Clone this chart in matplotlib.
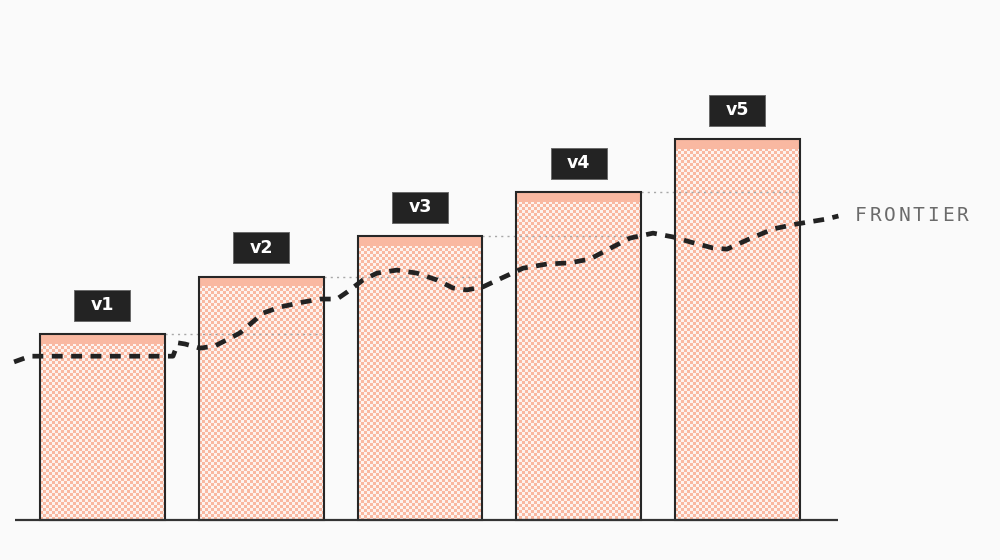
import numpy as np
import matplotlib.pyplot as plt
from matplotlib.patches import Rectangle

# releases and their scores
labels = ['v1', 'v2', 'v3', 'v4', 'v5']
scores = [48.8, 63.9, 74.5, 86.0, 100.0]

# frontier curve (x in bar-slot units, y in score units)
frontier_x = [-0.557, -0.457, 0.394, 0.444, 0.476, 0.520, 0.614, 0.709, 0.866, 1.011,
              1.118, 1.263, 1.370, 1.477, 1.540, 1.641, 1.729, 1.855, 1.981, 2.107,
              2.208, 2.296, 2.397, 2.504, 2.649, 2.800, 2.945, 3.071, 3.216, 3.323,
              3.468, 3.594, 3.701, 3.846, 3.934, 4.060, 4.224, 4.372, 4.561, 4.636]
frontier_y = [41.5, 43.0, 43.0, 43.0, 46.5, 46.2, 45.1, 45.7, 49.1, 54.3,
              55.9, 57.2, 58.0, 58.0, 59.8, 63.0, 64.8, 65.6, 64.8, 63.0,
              60.9, 60.4, 61.2, 63.3, 66.1, 67.2, 67.5, 68.5, 71.7, 74.0,
              75.3, 74.3, 73.0, 71.4, 71.1, 73.5, 76.4, 77.7, 79.0, 79.8]
frontier_label = 'FRONTIER'

bg = '#fafafa'
salmon = '#f9b8a1'
ink = '#262626'

fig = plt.figure(figsize=(10, 5.6), dpi=100, facecolor=bg)
ax = fig.add_axes([0, 0, 1, 1])
ax.set_facecolor(bg)
ax.set_xlim(-0.6457, 5.654)
ax.set_ylim(-10.5, 136.5)
ax.axis('off')

px_x = 1000 / (5.654 + 0.6457)   # pixels per x unit
px_y = 560 / (136.5 + 10.5)      # pixels per y unit

x = np.arange(len(labels))
w = 0.787
band = 2.6

# checkerboard fill, clipped to each bar
bars = ax.bar(x, scores, width=w, facecolor='none', edgecolor=ink, linewidth=1.5, zorder=3)
for b in bars:
    x0, y0 = b.get_x(), b.get_y()
    bw, bh = b.get_width(), b.get_height()
    nx = int(bw * px_x / 3) + 1
    ny = int(bh * px_y / 3) + 1
    ii, jj = np.indices((ny, nx))
    chk = (ii + jj) % 2
    img = np.where(chk[..., None] == 1,
                   np.array([0xf9, 0xb8, 0xa1]) / 255,
                   np.array([0xfd, 0xf3, 0xef]) / 255)
    im = ax.imshow(img, extent=(x0, x0 + nx * 3 / px_x, y0 + bh - ny * 3 / px_y, y0 + bh),
                   origin='upper', interpolation='nearest', aspect='auto', zorder=1)
    im.set_clip_path(b)

ax.bar(x, band, bottom=np.array(scores) - band, width=w, color=salmon, linewidth=0, zorder=2)

# dotted guides from each bar top to the next bar
for i in range(len(scores) - 1):
    ax.hlines(scores[i], x[i] + w / 2, x[i + 1] + w / 2, colors='#a8a8a8',
              linewidth=1.0, linestyles=(0, (1.5, 3)), zorder=2.5)

# baseline
ax.hlines(0, -0.551, 4.633, colors='#333333', linewidth=1.6, zorder=3)

# version tags
bw_tag = 56 / px_x
bh_tag = 31 / px_y
for xi, s, lab in zip(x, scores, labels):
    bottom = s + 13.5 / px_y
    ax.add_patch(Rectangle((xi - bw_tag / 2, bottom), bw_tag, bh_tag, facecolor='#232323',
                           edgecolor='#6a6a6a', linewidth=0.7, zorder=5))
    ax.text(xi, bottom + bh_tag / 2, lab, color='white', fontsize=12.5, fontweight='bold',
            ha='center', va='center', zorder=6)

# frontier
ax.plot(frontier_x, frontier_y, color='#222222', linewidth=3.4,
        linestyle=(0, (2.3, 1.8)), dash_capstyle='butt', solid_joinstyle='round', zorder=4)

# letter-spaced label
start = frontier_x[-1] + (861 - 839) / px_x
for k, ch in enumerate(frontier_label):
    ax.text(start + k * 14.6 / px_x, 79.9, ch, color='#6b6b6b', fontsize=14,
            family='DejaVu Sans Mono', ha='center', va='center', zorder=6)

fig.savefig('out.png', dpi=100, facecolor=bg)
